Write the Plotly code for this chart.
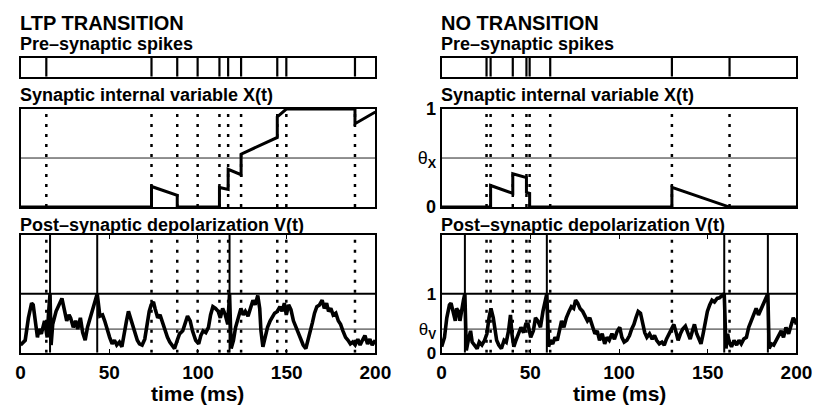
import plotly.graph_objects as go

W, H = 829, 416

# ---------------- data ----------------
time_ticks = [0, 50, 100, 150, 200]
time_range = [0, 200]

ltp_pre_spikes = [14.5, 73.8, 88.3, 99.8, 112.1, 117.0, 124.3, 144.7, 149.8, 188.5]
no_pre_spikes = [25.3, 27.6, 40.1, 47.8, 49.6, 61.2, 129.8, 162.3]

ltp_post_spikes = [16.6, 43.2, 117.8]
no_post_spikes = [13.1, 59.3, 159.3, 183.9]

theta_x = 0.5
theta_v = 0.4
v_fire = 1.0
v_top = 2.0

ltp_x_time = [0, 73.8, 73.8, 88.3, 88.3, 112.1, 112.1, 117.0, 117.0, 124.3, 124.3,
              144.7, 144.7, 149.8, 188.5, 188.5, 200]
ltp_x_val = [0, 0, 0.21, 0.12, 0, 0, 0.20, 0.18, 0.385, 0.33, 0.54,
             0.71, 0.92, 1.0, 1.0, 0.85, 0.97]

no_x_time = [0, 27.6, 27.6, 40.1, 40.1, 47.8, 47.8, 49.6, 49.6, 129.8, 129.8, 162.3, 200]
no_x_val = [0, 0, 0.22, 0.14, 0.34, 0.30, 0.15, 0.14, 0, 0, 0.20, 0, 0]

ltp_v_time = [
    0.0, 2.6, 4.4, 6.2, 7.1, 8.4, 9.5, 10.3, 11.7, 13.5, 15.0, 15.7, 16.6,
    17.2, 18.1, 20.0, 21.8, 23.3, 24.5, 26.0, 27.3, 28.2, 29.7, 31.0, 32.2, 33.7, 35.0, 36.4, 37.7, 39.2, 40.7, 41.9, 43.2,
    44.7, 46.2, 47.4, 48.7, 50.2, 51.6, 52.9, 54.2, 55.7, 57.1, 58.4, 59.7, 60.8, 62.1, 63.4, 64.5, 65.8, 67.0, 68.5, 70.0,
    71.2, 72.5, 73.6, 74.9, 75.8, 77.3, 78.6, 79.9, 81.3, 82.8, 84.1, 85.3, 86.8, 88.3, 89.6, 91.4, 92.7, 94.1, 95.6, 96.9, 98.7,
    100.4, 101.6, 102.9, 104.4, 105.9, 107.1, 108.4, 109.9, 111.4, 112.6, 113.9, 115.4, 116.8, 117.8,
    118.7, 120.0, 121.2, 122.7, 124.2, 125.5, 126.7, 128.2, 129.7, 131.0, 132.2, 133.7, 134.8, 135.5, 136.6, 137.7,
    139.2, 140.7, 141.9, 143.2, 144.7, 146.2, 147.4, 148.7, 149.8, 151.1, 152.4, 153.8, 155.3, 156.6, 157.9, 159.3,
    160.8, 162.1, 163.4, 164.5, 165.7, 167.0, 168.5, 170.0, 171.2, 172.5, 173.6, 174.9, 176.2, 177.7, 179.1, 180.4,
    181.7, 183.2, 184.6, 185.9, 187.2, 188.6, 190.1, 191.4, 192.7, 194.1, 195.6, 196.9, 198.2, 200.0]
ltp_v_val = [
    0.13, 0.21, 0.59, 0.84, 0.81, 0.48, 0.26, 0.40, 0.32, 0.54, 0.26, 0.64, 1.0,
    0.13, 0.48, 0.70, 0.81, 0.92, 0.75, 0.54, 0.64, 0.59, 0.43, 0.54, 0.40, 0.59, 0.34, 0.21, 0.43, 0.59, 0.70, 0.86, 1.0,
    0.62, 0.64, 0.54, 0.40, 0.26, 0.15, 0.21, 0.13, 0.18, 0.10, 0.37, 0.54, 0.70, 0.56, 0.45, 0.32, 0.21, 0.15, 0.13, 0.23,
    0.48, 0.70, 0.81, 0.86, 0.75, 0.59, 0.64, 0.51, 0.37, 0.26, 0.18, 0.13, 0.07, 0.21, 0.32, 0.37, 0.48, 0.62, 0.54, 0.37, 0.21,
    0.15, 0.29, 0.37, 0.34, 0.43, 0.64, 0.78, 0.75, 0.70, 0.59, 0.75, 0.64, 0.48, 1.0,
    0.07, 0.21, 0.43, 0.59, 0.75, 0.64, 0.70, 0.62, 0.75, 0.89, 0.81, 0.97, 0.75, 0.37, 0.10, 0.26,
    0.43, 0.54, 0.59, 0.67, 0.70, 0.78, 0.70, 0.84, 0.64, 0.81, 0.73, 0.54, 0.43, 0.32, 0.21, 0.13,
    0.07, 0.21, 0.37, 0.51, 0.67, 0.78, 0.81, 0.89, 0.75, 0.84, 0.70, 0.75, 0.64, 0.67, 0.54, 0.48,
    0.37, 0.26, 0.21, 0.15, 0.18, 0.13, 0.23, 0.13, 0.21, 0.29, 0.15, 0.23, 0.13, 0.21]

no_v_time = [
    0.0, 1.6, 2.9, 4.4, 5.3, 6.6, 7.7, 8.4, 9.5, 10.3, 11.4, 12.3, 13.1,
    13.9, 15.0, 16.3, 17.2, 18.7, 20.0, 21.2, 22.7, 24.2, 25.5, 26.7, 27.8, 29.1, 30.0, 31.0, 32.2, 33.7, 35.2, 36.4,
    37.7, 38.8, 39.6, 40.7, 41.9, 43.2, 44.7, 46.2, 47.4, 48.7, 50.2, 51.7, 52.9, 54.2, 55.7, 57.1, 58.4, 59.3,
    60.3, 61.2, 62.6, 63.9, 65.2, 66.3, 67.6, 68.9, 70.3, 71.8, 73.1, 74.4, 75.5, 76.7, 78.0, 79.5, 80.9, 82.2, 83.5,
    85.0, 86.4, 87.7, 89.0, 90.5, 91.9, 93.2, 94.5, 96.0, 97.4, 98.9, 100.4, 101.6, 102.9, 104.4, 105.9, 107.1, 108.4,
    109.5, 110.8, 112.1, 113.2, 114.5, 115.7, 117.2, 118.7, 120.0, 121.2, 122.7, 124.2, 125.5, 126.7, 128.2, 129.5,
    130.9, 132.2, 133.3, 134.6, 135.9, 137.4, 138.8, 140.1, 141.4, 142.5, 143.8, 145.1, 146.2, 147.4, 148.7, 149.8,
    151.1, 152.4, 153.8, 155.3, 156.6, 157.9, 159.3,
    160.3, 161.2, 162.1, 163.4, 164.8, 166.3, 167.6, 168.9, 170.3, 171.8, 173.1, 174.4, 175.8, 177.3, 178.6, 179.9,
    181.0, 182.2, 183.9,
    184.6, 185.9, 187.2, 188.6, 190.1, 191.4, 192.7, 194.1, 195.6, 196.9, 198.2, 199.3, 200.0]
no_v_val = [
    0.10, 0.26, 0.59, 0.81, 0.84, 0.70, 0.54, 0.75, 0.70, 0.54, 0.78, 0.89, 1.0,
    0.04, 0.21, 0.37, 0.18, 0.13, 0.07, 0.18, 0.13, 0.21, 0.32, 0.59, 0.75, 0.59, 0.37, 0.21, 0.13, 0.07, 0.21, 0.18,
    0.37, 0.64, 0.32, 0.10, 0.21, 0.32, 0.43, 0.34, 0.48, 0.48, 0.26, 0.37, 0.59, 0.54, 0.43, 0.70, 0.89, 1.0,
    0.10, 0.21, 0.15, 0.26, 0.21, 0.34, 0.54, 0.43, 0.59, 0.70, 0.78, 0.75, 0.89, 0.84, 0.75, 0.70, 0.62, 0.54, 0.59,
    0.43, 0.32, 0.37, 0.21, 0.32, 0.15, 0.26, 0.21, 0.32, 0.23, 0.36, 0.43, 0.26, 0.18, 0.21, 0.29, 0.40, 0.48,
    0.59, 0.70, 0.67, 0.48, 0.34, 0.26, 0.32, 0.23, 0.29, 0.21, 0.15, 0.18, 0.13, 0.23, 0.32, 0.43,
    0.48, 0.34, 0.21, 0.32, 0.40, 0.45, 0.34, 0.23, 0.37, 0.48, 0.32, 0.21, 0.15, 0.32, 0.54, 0.70,
    0.81, 0.89, 0.86, 0.92, 0.93, 0.97, 1.0,
    0.07, 0.32, 0.18, 0.10, 0.21, 0.13, 0.21, 0.15, 0.23, 0.26, 0.43, 0.54, 0.64, 0.75, 0.64, 0.73,
    0.81, 0.92, 1.0,
    0.07, 0.15, 0.13, 0.21, 0.29, 0.37, 0.26, 0.43, 0.32, 0.48, 0.59, 0.54, 0.48]

panel_titles = ["LTP TRANSITION", "NO TRANSITION"]
row_titles = ["Pre\u2013synaptic spikes", "Synaptic internal variable X(t)",
              "Post\u2013synaptic depolarization V(t)"]
x_label = "time (ms)"

# ---------------- layout geometry (pixels) ----------------
col_px = [(16, 380), (448, 812)]
row_px = {"S": (50, 70), "X": (104, 207), "V": (236, 360)}

def xdom(c):
    return [col_px[c][0] / W, col_px[c][1] / W]

def ydom(r):
    t, b = row_px[r]
    return [1 - b / H, 1 - t / H]

FONT = "Liberation Sans, Arial, Helvetica, sans-serif"

fig = go.Figure()

def vlines(times, y0, y1):
    xs, ys = [], []
    for t in times:
        xs += [t, t, None]
        ys += [y0, y1, None]
    return xs, ys

def add(xs, ys, ax, width, dash="solid", color="black"):
    fig.add_trace(go.Scatter(x=xs, y=ys, mode="lines", xaxis="x" + ax, yaxis="y" + ax,
                             line=dict(color=color, width=width, dash=dash),
                             hoverinfo="skip", showlegend=False))

DOT = "3px,7px"
cols = [
    dict(pre=ltp_pre_spikes, post=ltp_post_spikes, xt=ltp_x_time, xv=ltp_x_val, vt=ltp_v_time, vv=ltp_v_val),
    dict(pre=no_pre_spikes, post=no_post_spikes, xt=no_x_time, xv=no_x_val, vt=no_v_time, vv=no_v_val),
]

axis_ids = {}
n = 0
for c in range(2):
    for r in ["S", "X", "V"]:
        n += 1
        axis_ids[(c, r)] = "" if n == 1 else str(n)

for c, d in enumerate(cols):
    # spikes panel
    a = axis_ids[(c, "S")]
    xs, ys = vlines(d["pre"], 0, 1)
    add(xs, ys, a, 2.2)
    # X panel
    a = axis_ids[(c, "X")]
    add(list(time_range), [theta_x, theta_x], a, 1, color="#222")
    xs, ys = vlines(d["pre"], 0, 1)
    add(xs, ys, a, 2.5, dash=DOT)
    add(d["xt"], d["xv"], a, 3)
    # V panel
    a = axis_ids[(c, "V")]
    add(list(time_range), [theta_v, theta_v], a, 1, color="#222")
    add(list(time_range), [v_fire, v_fire], a, 2)
    xs, ys = vlines(d["pre"], 0, v_top)
    add(xs, ys, a, 2.5, dash=DOT)
    xs, ys = vlines(d["post"], 0, v_top)
    add(xs, ys, a, 2)
    add(d["vt"], d["vv"], a, 3.6)

layout = dict(width=W, height=H, autosize=False, margin=dict(l=0, r=0, t=0, b=0),
              paper_bgcolor="white", plot_bgcolor="white", showlegend=False)

for (c, r), a in axis_ids.items():
    xk = "xaxis" + a
    yk = "yaxis" + a
    xa = dict(domain=xdom(c), range=time_range, anchor="y" + a, showgrid=False, zeroline=False,
              showline=True, mirror=True, linecolor="black", linewidth=2,
              showticklabels=False, ticks="", fixedrange=True)
    ya = dict(domain=ydom(r), anchor="x" + a, showgrid=False, zeroline=False,
              showline=True, mirror=True, linecolor="black", linewidth=2,
              showticklabels=False, ticks="", fixedrange=True)
    if r == "S":
        ya["range"] = [0, 1]
    elif r == "X":
        ya["range"] = [0, 1]
        if c == 1:
            ya.update(showticklabels=True, tickvals=[0, theta_x, 1],
                      ticktext=["<b>0</b>", "\u03b8<sub><b>X</b></sub>", "<b>1</b>"],
                      tickfont=dict(family=FONT, size=18, color="black"))
    else:
        ya["range"] = [0, v_top]
        xa.update(showticklabels=True, tickvals=time_ticks, ticktext=["<b>%d</b>" % t for t in time_ticks],
                  ticks="inside", ticklen=4, tickwidth=1, tickcolor="black", mirror="ticks",
                  ticklabelstandoff=2,
                  tickfont=dict(family=FONT, size=19, color="black"))
        if c == 1:
            ya.update(showticklabels=True, tickvals=[0, theta_v, v_fire],
                      ticktext=["<b>0</b>", "\u03b8<sub><b>V</b></sub>", "<b>1</b>"],
                      tickfont=dict(family=FONT, size=17, color="black"))
    layout[xk] = xa
    layout[yk] = ya

annotations = []

def ann(text, xpx, ypx, size, xanchor="left"):
    annotations.append(dict(text="<b>%s</b>" % text, x=xpx / W, y=1 - ypx / H, xref="paper", yref="paper",
                            xanchor=xanchor, yanchor="middle", showarrow=False,
                            font=dict(family=FONT, size=size, color="black")))

row_title_y = [36.2, 89, 226]
for c in range(2):
    x0 = col_px[c][0] - 3
    ann(panel_titles[c], x0, 13.3, 20)
    for t, y in zip(row_titles, row_title_y):
        ann(t, x0, y, 18)
    ann(x_label, (col_px[c][0] + col_px[c][1]) / 2, 403, 21, xanchor="center")

layout["annotations"] = annotations
fig.update_layout(**layout)
fig.write_html("out.html")
